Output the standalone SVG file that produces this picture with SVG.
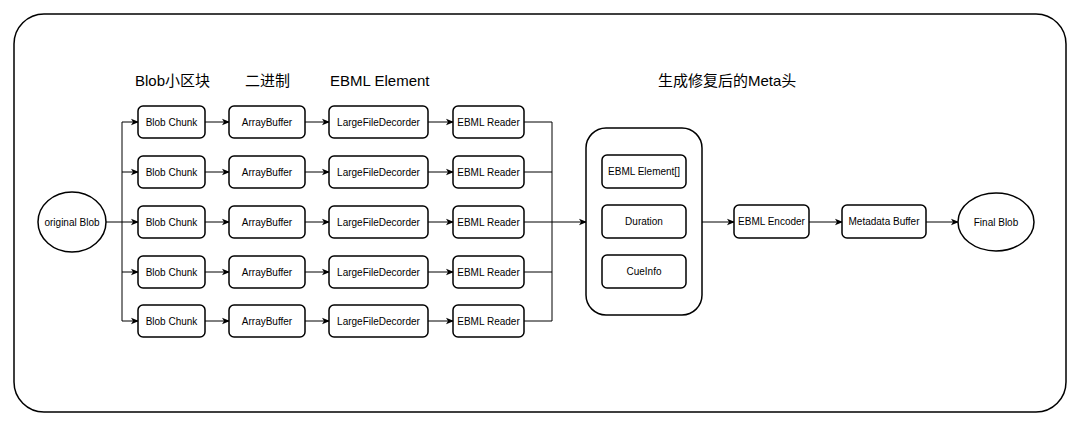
<svg xmlns="http://www.w3.org/2000/svg" width="1080" height="426" viewBox="0 0 1080 426">
<style>
.box{fill:#fff;stroke:#000;stroke-width:1.5}
.t{font-family:"Liberation Sans",Arial,sans-serif;font-size:10px;fill:#000;text-anchor:middle;dominant-baseline:central}
.h{font-family:"Liberation Sans","Noto Sans CJK SC",sans-serif;font-size:15px;fill:#000}
.c{fill:none;stroke:#000;stroke-width:1}
</style>
<defs>
<marker id="a" viewBox="0 0 8 8" refX="7" refY="4" markerWidth="8" markerHeight="8" markerUnits="userSpaceOnUse" orient="auto">
<path d="M0,0.8 L8,4 L0,7.2 L2,4 Z" fill="#000"/>
</marker>
</defs>
<rect width="1080" height="426" fill="#fff"/>
<rect id="frame" x="14" y="14" width="1052" height="398" rx="30" ry="30" fill="none" stroke="#000" stroke-width="1.5"/>
<g id="headings">
<text class="h" x="135" y="86">Blob小区块</text>
<text class="h" x="245" y="86">二进制</text>
<text class="h" x="330" y="86">EBML Element</text>
<text class="h" x="658" y="86">生成修复后的Meta头</text>
</g>
<g id="connectors">
<path class="c" d="M106,222 H122 M122,122 V321"/>
<path class="c" marker-end="url(#a)" d="M122,122 H138"/>
<path class="c" marker-end="url(#a)" d="M122,172 H138"/>
<path class="c" marker-end="url(#a)" d="M122,222 H138"/>
<path class="c" marker-end="url(#a)" d="M122,272 H138"/>
<path class="c" marker-end="url(#a)" d="M122,321 H138"/>
<path class="c" marker-end="url(#a)" d="M205,122 H229"/>
<path class="c" marker-end="url(#a)" d="M205,172 H229"/>
<path class="c" marker-end="url(#a)" d="M205,222 H229"/>
<path class="c" marker-end="url(#a)" d="M205,272 H229"/>
<path class="c" marker-end="url(#a)" d="M205,321 H229"/>
<path class="c" marker-end="url(#a)" d="M305,122 H329"/>
<path class="c" marker-end="url(#a)" d="M305,172 H329"/>
<path class="c" marker-end="url(#a)" d="M305,222 H329"/>
<path class="c" marker-end="url(#a)" d="M305,272 H329"/>
<path class="c" marker-end="url(#a)" d="M305,321 H329"/>
<path class="c" marker-end="url(#a)" d="M428,122 H453"/>
<path class="c" marker-end="url(#a)" d="M428,172 H453"/>
<path class="c" marker-end="url(#a)" d="M428,222 H453"/>
<path class="c" marker-end="url(#a)" d="M428,272 H453"/>
<path class="c" marker-end="url(#a)" d="M428,321 H453"/>
<path class="c" d="M524,122 H552 M524,172 H552 M524,272 H552 M524,321 H552 M552,122 V321"/>
<path class="c" marker-end="url(#a)" d="M524,222 H586"/>
<path class="c" marker-end="url(#a)" d="M702,222 H734"/>
<path class="c" marker-end="url(#a)" d="M809,222 H842"/>
<path class="c" marker-end="url(#a)" d="M926,222 H958"/>
</g>
<g id="original-blob"><ellipse class="box" cx="72" cy="222" rx="34" ry="30"/><text class="t" x="72" y="222">original Blob</text></g>
<g id="chunk1"><rect class="box" x="138" y="106" width="67" height="32" rx="5"/><text class="t" x="171.5" y="122">Blob Chunk</text></g>
<g id="chunk2"><rect class="box" x="138" y="156" width="67" height="32" rx="5"/><text class="t" x="171.5" y="172">Blob Chunk</text></g>
<g id="chunk3"><rect class="box" x="138" y="206" width="67" height="32" rx="5"/><text class="t" x="171.5" y="222">Blob Chunk</text></g>
<g id="chunk4"><rect class="box" x="138" y="256" width="67" height="32" rx="5"/><text class="t" x="171.5" y="272">Blob Chunk</text></g>
<g id="chunk5"><rect class="box" x="138" y="305" width="67" height="32" rx="5"/><text class="t" x="171.5" y="321">Blob Chunk</text></g>
<g id="ab1"><rect class="box" x="229" y="106" width="76" height="32" rx="5"/><text class="t" x="267" y="122">ArrayBuffer</text></g>
<g id="ab2"><rect class="box" x="229" y="156" width="76" height="32" rx="5"/><text class="t" x="267" y="172">ArrayBuffer</text></g>
<g id="ab3"><rect class="box" x="229" y="206" width="76" height="32" rx="5"/><text class="t" x="267" y="222">ArrayBuffer</text></g>
<g id="ab4"><rect class="box" x="229" y="256" width="76" height="32" rx="5"/><text class="t" x="267" y="272">ArrayBuffer</text></g>
<g id="ab5"><rect class="box" x="229" y="305" width="76" height="32" rx="5"/><text class="t" x="267" y="321">ArrayBuffer</text></g>
<g id="lfd1"><rect class="box" x="329" y="106" width="99" height="32" rx="5"/><text class="t" x="378.5" y="122">LargeFileDecorder</text></g>
<g id="lfd2"><rect class="box" x="329" y="156" width="99" height="32" rx="5"/><text class="t" x="378.5" y="172">LargeFileDecorder</text></g>
<g id="lfd3"><rect class="box" x="329" y="206" width="99" height="32" rx="5"/><text class="t" x="378.5" y="222">LargeFileDecorder</text></g>
<g id="lfd4"><rect class="box" x="329" y="256" width="99" height="32" rx="5"/><text class="t" x="378.5" y="272">LargeFileDecorder</text></g>
<g id="lfd5"><rect class="box" x="329" y="305" width="99" height="32" rx="5"/><text class="t" x="378.5" y="321">LargeFileDecorder</text></g>
<g id="reader1"><rect class="box" x="453" y="106" width="71" height="32" rx="5"/><text class="t" x="488.5" y="122">EBML Reader</text></g>
<g id="reader2"><rect class="box" x="453" y="156" width="71" height="32" rx="5"/><text class="t" x="488.5" y="172">EBML Reader</text></g>
<g id="reader3"><rect class="box" x="453" y="206" width="71" height="32" rx="5"/><text class="t" x="488.5" y="222">EBML Reader</text></g>
<g id="reader4"><rect class="box" x="453" y="256" width="71" height="32" rx="5"/><text class="t" x="488.5" y="272">EBML Reader</text></g>
<g id="reader5"><rect class="box" x="453" y="305" width="71" height="32" rx="5"/><text class="t" x="488.5" y="321">EBML Reader</text></g>
<g id="meta-container">
<rect class="box" x="586" y="128" width="116" height="187" rx="20"/>
<g id="ebml-element"><rect class="box" x="602" y="155" width="84" height="33" rx="5"/><text class="t" x="644" y="171.5">EBML Element[]</text></g>
<g id="duration"><rect class="box" x="602" y="205" width="84" height="33" rx="5"/><text class="t" x="644" y="221.5">Duration</text></g>
<g id="cueinfo"><rect class="box" x="602" y="255" width="84" height="33" rx="5"/><text class="t" x="644" y="271.5">CueInfo</text></g>
</g>
<g id="encoder"><rect class="box" x="734" y="205" width="75" height="33" rx="5"/><text class="t" x="771.5" y="221.5">EBML Encoder</text></g>
<g id="metadata-buffer"><rect class="box" x="842" y="205" width="84" height="33" rx="5"/><text class="t" x="884" y="221.5">Metadata Buffer</text></g>
<g id="final-blob"><ellipse class="box" cx="996" cy="222" rx="38" ry="29"/><text class="t" x="996" y="222">Final Blob</text></g>
</svg>
